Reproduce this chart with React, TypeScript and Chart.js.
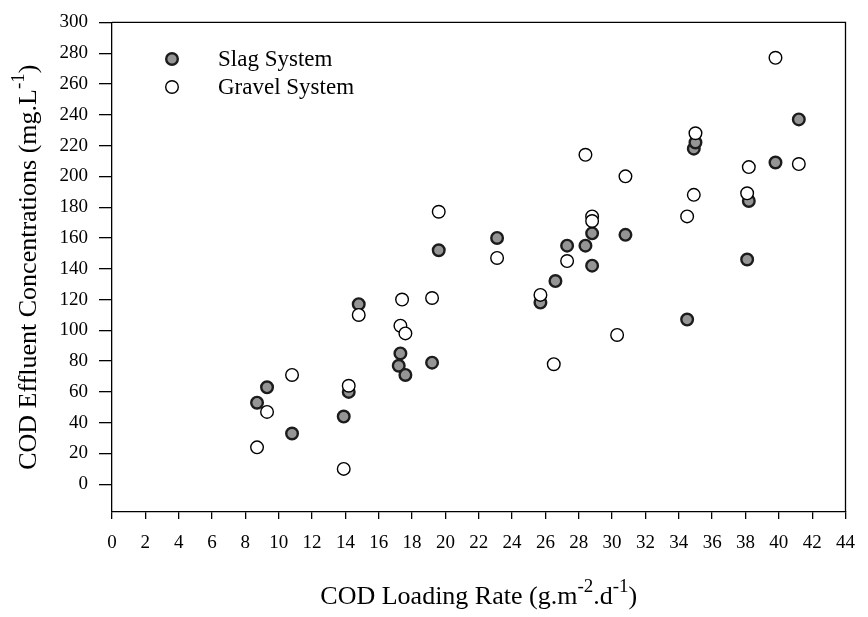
import { useEffect, useRef } from 'react';
import { Chart, registerables } from 'chart.js';

Chart.register(...registerables);

// COD loading rate (g.m-2.d-1) and effluent COD (mg/L) for each system
const slagLoading = [8.7, 9.3, 10.8, 13.9, 14.2, 14.8, 17.3, 17.2, 17.6, 19.2, 19.6, 23.1, 25.7, 26.6, 27.3, 28.4, 28.8, 28.8, 30.8, 34.5, 34.9, 35.0, 38.1, 38.2, 39.8, 41.2];
const slagCod = [53, 63, 33, 44, 60, 117, 85, 77, 71, 79, 152, 160, 118, 132, 155, 155, 163, 142, 162, 107, 218, 222, 146, 184, 209, 237];

const gravelLoading = [8.7, 9.3, 10.8, 13.9, 14.2, 14.8, 17.3, 17.4, 17.6, 19.2, 19.6, 23.1, 25.7, 26.5, 27.3, 28.4, 28.8, 28.8, 30.3, 30.8, 34.5, 34.9, 35.0, 38.1, 38.2, 39.8, 41.2];
const gravelCod = [24, 47, 71, 10, 64, 110, 103, 120, 98, 121, 177, 147, 123, 78, 145, 214, 174, 171, 97, 200, 174, 188, 228, 189, 206, 277, 208];

const seriesNames = ['Slag System', 'Gravel System'];

const FONT = "'Liberation Serif', 'Times New Roman', serif";

type Part = { text: string; sup?: boolean };

const xTitle: Part[] = [
  { text: 'COD Loading Rate (g.m' },
  { text: '-2', sup: true },
  { text: '.d' },
  { text: '-1', sup: true },
  { text: ')' },
];
const yTitle: Part[] = [
  { text: 'COD Effluent Concentrations (mg.L' },
  { text: '-1', sup: true },
  { text: ')' },
];

const SLAG_FILL = '#959595';
const SLAG_EDGE = '#1c1c1c';

function drawRich(ctx: CanvasRenderingContext2D, parts: Part[], cx: number, cy: number, size: number) {
  const supSize = Math.round(size * 0.72);
  const widths = parts.map((p) => {
    ctx.font = `${p.sup ? supSize : size}px ${FONT}`;
    return ctx.measureText(p.text).width;
  });
  const total = widths.reduce((s, w) => s + w, 0);
  let x = cx - total / 2;
  ctx.textBaseline = 'middle';
  ctx.textAlign = 'left';
  parts.forEach((p, i) => {
    ctx.font = `${p.sup ? supSize : size}px ${FONT}`;
    ctx.fillText(p.text, x, p.sup ? cy - size * 0.38 : cy);
    x += widths[i];
  });
}

function dot(ctx: CanvasRenderingContext2D, x: number, y: number, filled: boolean) {
  ctx.beginPath();
  ctx.arc(x, y, filled ? 5.8 : 6.3, 0, Math.PI * 2);
  ctx.fillStyle = filled ? SLAG_FILL : '#ffffff';
  ctx.fill();
  ctx.lineWidth = filled ? 2.4 : 1.4;
  ctx.strokeStyle = filled ? SLAG_EDGE : '#000000';
  ctx.stroke();
}

const decorPlugin = {
  id: 'decor',
  afterDraw(chart: Chart) {
    const { ctx, chartArea: a } = chart;
    ctx.save();
    // closing frame lines on top and right
    ctx.strokeStyle = '#000';
    ctx.lineWidth = 1.3;
    ctx.beginPath();
    ctx.moveTo(a.left, a.top);
    ctx.lineTo(a.right, a.top);
    ctx.lineTo(a.right, a.bottom);
    ctx.stroke();

    // axis titles with superscripts
    ctx.fillStyle = '#000';
    drawRich(ctx, xTitle, (a.left + a.right) / 2, 597, 26);
    ctx.save();
    ctx.translate(29, (a.top + a.bottom) / 2);
    ctx.rotate(-Math.PI / 2);
    drawRich(ctx, yTitle, 0, 0, 26);
    ctx.restore();

    // legend
    const legendX = 172;
    const rows = [59, 87];
    ctx.font = `23px ${FONT}`;
    ctx.textBaseline = 'middle';
    ctx.textAlign = 'left';
    rows.forEach((y, i) => {
      dot(ctx, legendX, y, i === 0);
      ctx.fillStyle = '#000';
      ctx.fillText(seriesNames[i], 218, y + 1);
    });
    ctx.restore();
  },
};

export default function App() {
  const canvasRef = useRef<HTMLCanvasElement | null>(null);

  useEffect(() => {
    const canvas = canvasRef.current;
    if (!canvas) return;
    const chart = new Chart(canvas, {
      type: 'scatter',
      data: {
        datasets: [
          {
            label: seriesNames[1],
            data: gravelLoading.map((x, i) => ({ x, y: gravelCod[i] })),
            backgroundColor: '#ffffff',
            borderColor: '#000000',
            borderWidth: 1.4,
            pointRadius: 6.3,
            order: 0,
          },
          {
            label: seriesNames[0],
            data: slagLoading.map((x, i) => ({ x, y: slagCod[i] })),
            backgroundColor: SLAG_FILL,
            borderColor: SLAG_EDGE,
            borderWidth: 2.4,
            pointRadius: 5.8,
            order: 1,
          },
        ],
      },
      options: {
        responsive: false,
        animation: false,
        layout: { padding: { left: 0, top: 19, right: 10, bottom: 0 } },
        plugins: {
          legend: { display: false },
          tooltip: { enabled: false },
        },
        scales: {
          x: {
            type: 'linear',
            min: 0,
            max: 44,
            afterFit(scale: any) {
              scale.height = 105;
            },
            ticks: {
              stepSize: 2,
              color: '#000',
              padding: 13,
              maxRotation: 0,
              autoSkip: false,
              font: { family: FONT, size: 19 },
            },
            grid: {
              drawOnChartArea: false,
              drawTicks: true,
              tickLength: 7,
              color: '#000',
              lineWidth: 1.3,
            },
            border: { display: true, color: '#000', width: 1.3 },
          },
          y: {
            type: 'linear',
            min: -18,
            max: 300,
            afterFit(scale: any) {
              scale.width = 112;
            },
            afterBuildTicks(scale: any) {
              scale.ticks = scale.ticks.filter((t: any) => t.value >= 0);
            },
            ticks: {
              stepSize: 20,
              color: '#000',
              padding: 11,
              autoSkip: false,
              font: { family: FONT, size: 19 },
            },
            grid: {
              drawOnChartArea: false,
              drawTicks: true,
              tickLength: 13,
              color: '#000',
              lineWidth: 1.3,
            },
            border: { display: true, color: '#000', width: 1.3 },
          },
        },
      },
      plugins: [decorPlugin],
    });
    return () => chart.destroy();
  }, []);

  return (
    <div style={{ position: 'fixed', left: 0, top: 0, width: 868, height: 617, background: '#fff' }}>
      <canvas ref={canvasRef} width={868} height={617} />
    </div>
  );
}
